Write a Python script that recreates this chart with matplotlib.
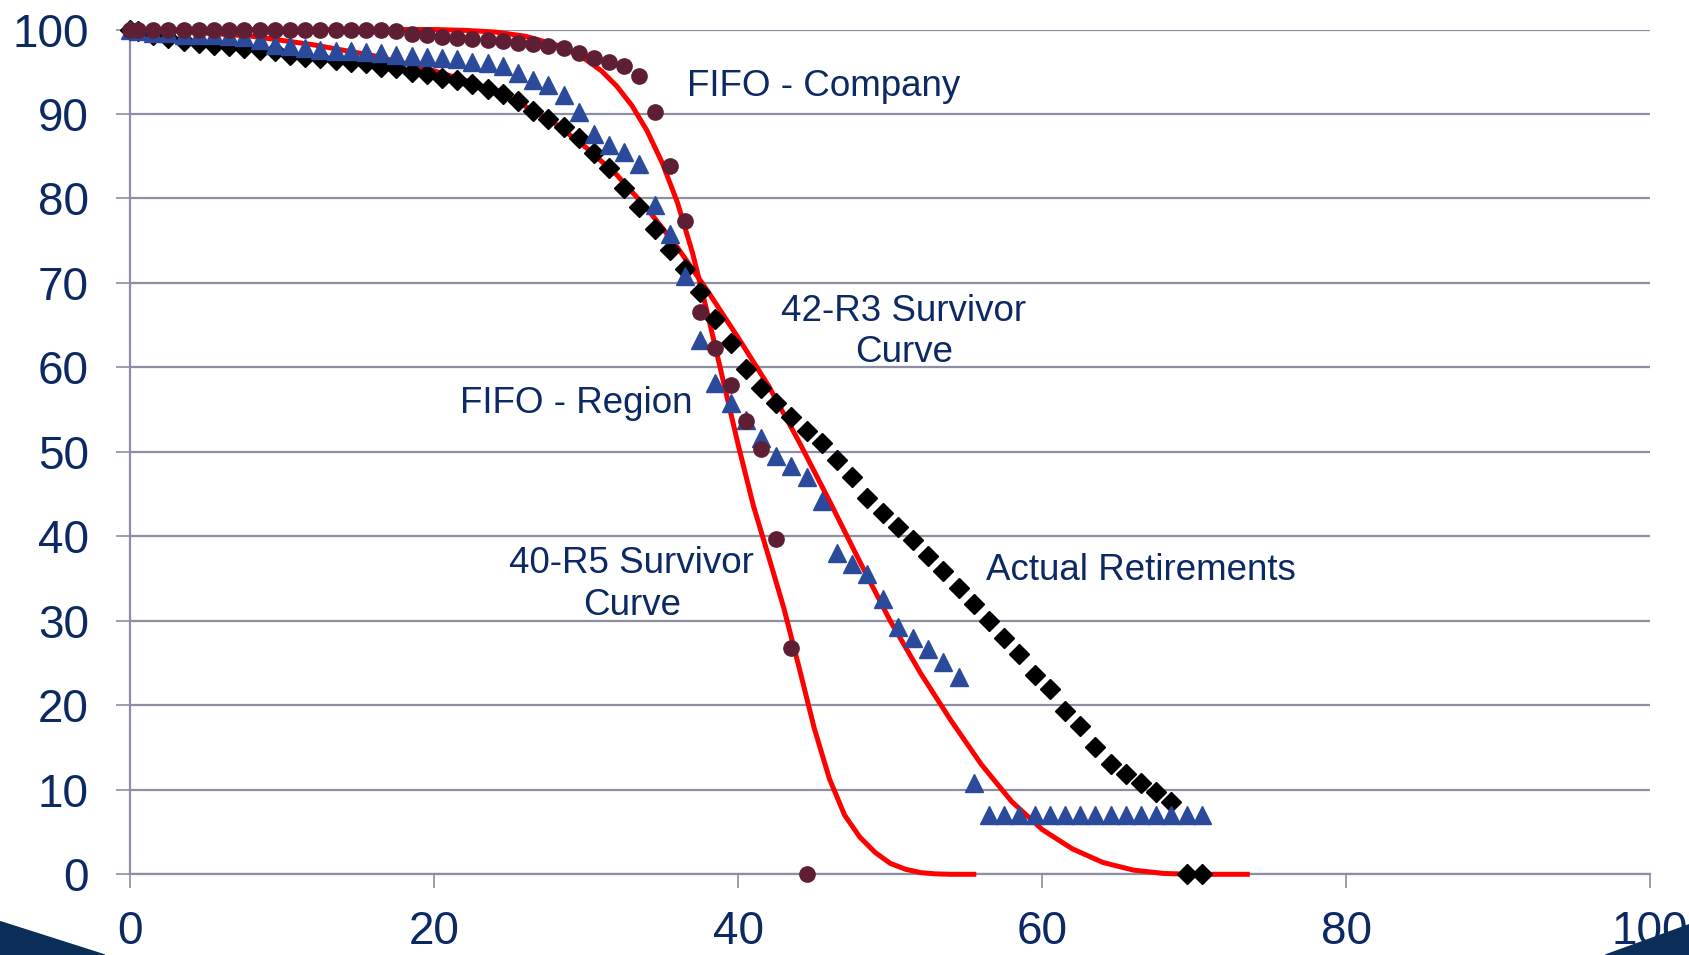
import matplotlib
matplotlib.use("Agg")
from matplotlib import pyplot as plt
from matplotlib.patches import Polygon

plt.rcParams["font.family"] = ["Liberation Sans", "DejaVu Sans"]

navy = "#0C2964"
grid_gray = "#8C8FA2"

# age (years) of each observation band
ages = [0, 0.5, 1.5, 2.5, 3.5, 4.5, 5.5, 6.5, 7.5, 8.5,
        9.5, 10.5, 11.5, 12.5, 13.5, 14.5, 15.5, 16.5, 17.5, 18.5,
        19.5, 20.5, 21.5, 22.5, 23.5, 24.5, 25.5, 26.5, 27.5, 28.5,
        29.5, 30.5, 31.5, 32.5, 33.5, 34.5, 35.5, 36.5, 37.5, 38.5,
        39.5, 40.5, 41.5, 42.5, 43.5, 44.5, 45.5, 46.5, 47.5, 48.5,
        49.5, 50.5, 51.5, 52.5, 53.5, 54.5, 55.5, 56.5, 57.5, 58.5,
        59.5, 60.5, 61.5, 62.5, 63.5, 64.5, 65.5, 66.5, 67.5, 68.5,
        69.5, 70.5]

actual = [100, 99.8, 99.4, 99.0, 98.6, 98.4, 98.2, 98.0, 97.8, 97.6,
          97.4, 97.0, 96.8, 96.6, 96.4, 96.2, 96.0, 95.6, 95.4, 95.0,
          94.7, 94.3, 94.0, 93.5, 93.0, 92.4, 91.5, 90.4, 89.4, 88.5,
          87.1, 85.4, 83.6, 81.2, 79.0, 76.4, 73.9, 71.6, 68.9, 65.7,
          62.9, 59.8, 57.6, 55.8, 54.1, 52.5, 51.0, 49.0, 47.0, 44.6,
          42.8, 41.1, 39.6, 37.7, 35.9, 33.9, 32.0, 30.0, 28.0, 26.1,
          23.6, 21.9, 19.3, 17.5, 15.1, 13.0, 11.9, 10.8, 9.8, 8.6,
          0, 0]

fifo_region = [100, 99.8, 99.6, 99.6, 99.4, 99.4, 99.3, 99.2, 99.1, 98.8,
               98.2, 98.0, 97.8, 97.6, 97.5, 97.4, 97.3, 97.2, 97.0, 96.9,
               96.8, 96.6, 96.5, 96.2, 96.0, 95.7, 94.8, 94.0, 93.4, 92.2,
               90.2, 87.6, 86.3, 85.5, 84.1, 79.2, 75.8, 70.8, 63.2, 58.2,
               55.8, 53.8, 51.6, 49.5, 48.3, 47.0, 44.2, 38.0, 36.7, 35.6,
               32.6, 29.3, 28.0, 26.7, 25.1, 23.4, 10.8, 7.0, 7.0, 7.0,
               7.0, 7.0, 7.0, 7.0, 7.0, 7.0, 7.0, 7.0, 7.0, 7.0,
               7.0, 7.0]

fifo_company = [100, 100, 100, 100, 100, 100, 100, 100, 100, 100,
                100, 100, 100, 100, 100, 100, 100, 100, 99.8, 99.5,
                99.3, 99.1, 99.0, 98.9, 98.8, 98.6, 98.4, 98.3, 98.1, 97.8,
                97.2, 96.6, 96.2, 95.7, 94.5, 90.2, 83.8, 77.3, 66.6, 62.3,
                57.9, 53.7, 50.4, 39.7, 26.8, 0]

# Iowa curves
r5_age = [0, 5, 10, 15, 20, 22, 24, 26, 28, 29, 30, 31, 32, 33, 34, 35, 36, 37,
          38, 39, 40, 41, 42, 43, 44, 45, 46, 47, 48, 49, 50, 51, 52, 53, 54, 55.5]
r5_pct = [100, 100, 100, 100, 100, 99.9, 99.7, 99.2, 98.2, 97.4, 96.4, 95.1, 93.3,
          91.0, 88.0, 84.2, 79.5, 73.5, 66.2, 58.5, 50.8, 43.6, 37.6, 31.5, 24.5,
          17.3, 11.3, 7.0, 4.4, 2.6, 1.3, 0.6, 0.2, 0.05, 0, 0]

r3_age = [0, 4, 8, 12, 16, 20, 22, 24, 26, 28, 30, 32, 34, 36, 38, 40, 42, 44,
          46, 48, 50, 52, 54, 56, 58, 60, 62, 64, 66, 68, 70, 73.5]
r3_pct = [100, 99.7, 99.2, 98.2, 96.9, 95.1, 94.0, 92.6, 90.9, 88.8, 86.0, 82.8,
          78.8, 74.2, 69.0, 63.5, 57.8, 51.2, 44.2, 37.0, 30.0, 23.8, 18.2, 13.0,
          8.6, 5.3, 3.0, 1.4, 0.5, 0.1, 0, 0]

fig = plt.figure(figsize=(16.9, 9.55), dpi=100)
ax = fig.add_axes([0.0772, 0.0845, 0.8991, 0.8846])

ax.plot(r5_age, r5_pct, color="#FF0000", linewidth=3.6, zorder=3, clip_on=False)
ax.plot(r3_age, r3_pct, color="#FF0000", linewidth=3.6, zorder=3, clip_on=False)
ax.plot(ages, actual, linestyle="none", marker="D", markersize=10,
        color="black", zorder=4, clip_on=False)
ax.plot(ages, fifo_region, linestyle="none", marker="^", markersize=13,
        color="#2B4A9B", zorder=5, clip_on=False)
ax.plot(ages[:len(fifo_company)], fifo_company, linestyle="none", marker="o",
        markersize=11, color="#5E1F34", zorder=6, clip_on=False)

ax.set_xlim(0, 100)
ax.set_ylim(0, 100)
ax.set_xticks([0, 20, 40, 60, 80, 100])
ax.set_yticks(range(0, 101, 10))
ax.grid(True, axis="y", color=grid_gray, linewidth=1.6)
ax.set_axisbelow(True)
for side in ["top", "right"]:
    ax.spines[side].set_visible(False)
for side in ["left", "bottom"]:
    ax.spines[side].set_color(grid_gray)
    ax.spines[side].set_linewidth(1.6)
ax.tick_params(axis="both", direction="out", length=10, width=1.2,
               color=grid_gray, labelsize=33, labelcolor=navy)
ax.tick_params(axis="y", pad=20)
ax.tick_params(axis="x", pad=16)

txt = dict(fontsize=26.5, color=navy, zorder=7)
ax.text(36.6, 93.2, "FIFO - Company", ha="left", va="center", **txt)
ax.text(50.9, 64.2, "42-R3 Survivor\nCurve", ha="center", va="center",
        linespacing=1.25, **txt)
ax.text(37.0, 55.7, "FIFO - Region", ha="right", va="center", **txt)
ax.text(33.0, 34.3, "40-R5 Survivor\nCurve", ha="center", va="center",
        linespacing=1.25, **txt)
ax.text(56.3, 36.0, "Actual Retirements", ha="left", va="center", **txt)

# slide corner decorations
fig.patches.append(Polygon([[0, 0], [0, 0.035], [0.062, 0]], closed=True,
                           transform=fig.transFigure, color="#0B2E59", zorder=10))
fig.patches.append(Polygon([[0.950, 0], [1, 0.032], [1, 0]], closed=True,
                           transform=fig.transFigure, color="#0B2E59", zorder=10))

fig.savefig("out.png", dpi=100)
